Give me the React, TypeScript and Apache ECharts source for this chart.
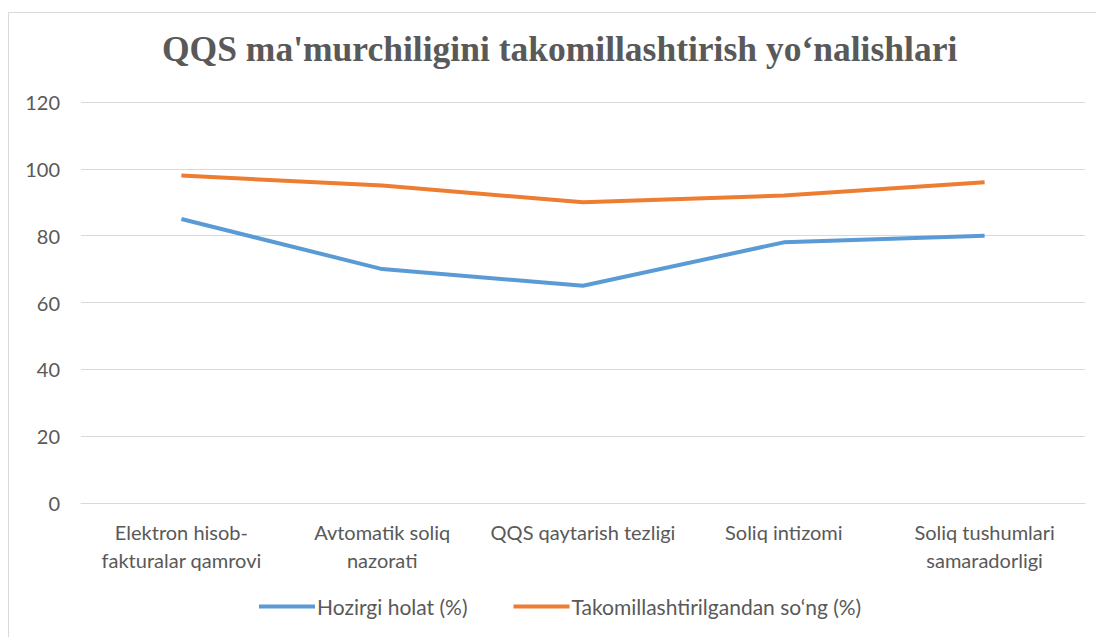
import React, { useEffect, useRef } from "react";
import * as echarts from "echarts";

const titleText = "QQS ma'murchiligini takomillashtirish yo‘nalishlari";
const categories = [
  "Elektron hisob-\nfakturalar qamrovi",
  "Avtomatik soliq\nnazorati",
  "QQS qaytarish tezligi",
  "Soliq intizomi",
  "Soliq tushumlari\nsamaradorligi",
];
const seriesNames = ["Hozirgi holat (%)", "Takomillashtirilgandan so‘ng (%)"];
const currentValues = [85, 70, 65, 78, 80];
const improvedValues = [98, 95, 90, 92, 96];
const yTicks = { min: 0, max: 120, interval: 20 };

export default function App() {
  const ref = useRef<HTMLDivElement>(null);
  useEffect(() => {
    document.body.style.margin = "0";
    const chart = echarts.init(ref.current!, null, { renderer: "svg" });
    const font = "Lato, 'Open Sans', sans-serif";
    chart.setOption({
      animation: false,
      backgroundColor: "#ffffff",
      title: {
        text: titleText,
        left: 157,
        top: 26,
        textStyle: {
          fontFamily: "'Liberation Serif', serif",
          fontWeight: "bold",
          fontSize: 35.5,
          color: "#595959",
        },
      },
      graphic: [
        {
          type: "rect",
          shape: { x: 8.5, y: 12.5, width: 1100, height: 640 },
          style: { fill: "none", stroke: "#d9d9d9", lineWidth: 1 },
          silent: true,
        },
      ],
      legend: {
        bottom: 15,
        left: 254,
        itemWidth: 56,
        itemHeight: 4,
        itemGap: 46,
        icon: "rect",
        textStyle: { fontFamily: font, fontSize: 21, color: "#595959", padding: [0, 0, 0, -3] },
        data: seriesNames,
      },
      grid: { left: 81, right: 11, top: 102, bottom: 134 },
      xAxis: {
        type: "category",
        data: categories,
        boundaryGap: true,
        axisLine: { show: true, lineStyle: { color: "#d9d9d9" } },
        axisTick: { show: false },
        axisLabel: {
          interval: 0,
          margin: 15,
          fontFamily: font,
          fontSize: 20,
          color: "#595959",
          lineHeight: 28,
        },
      },
      yAxis: {
        type: "value",
        min: yTicks.min,
        max: yTicks.max,
        interval: yTicks.interval,
        axisLine: { show: false },
        axisTick: { show: false },
        splitLine: { lineStyle: { color: "#d9d9d9", width: 1 } },
        axisLabel: { margin: 21, fontFamily: font, fontSize: 20, color: "#595959" },
      },
      series: [
        {
          name: seriesNames[0],
          type: "line",
          data: currentValues,
          symbol: "none",
          lineStyle: { width: 4, color: "#5B9BD5" },
          itemStyle: { color: "#5B9BD5" },
        },
        {
          name: seriesNames[1],
          type: "line",
          data: improvedValues,
          symbol: "none",
          lineStyle: { width: 4, color: "#ED7D31" },
          itemStyle: { color: "#ED7D31" },
        },
      ],
    });
    return () => chart.dispose();
  }, []);
  return <div ref={ref} style={{ width: 1096, height: 637 }} />;
}
